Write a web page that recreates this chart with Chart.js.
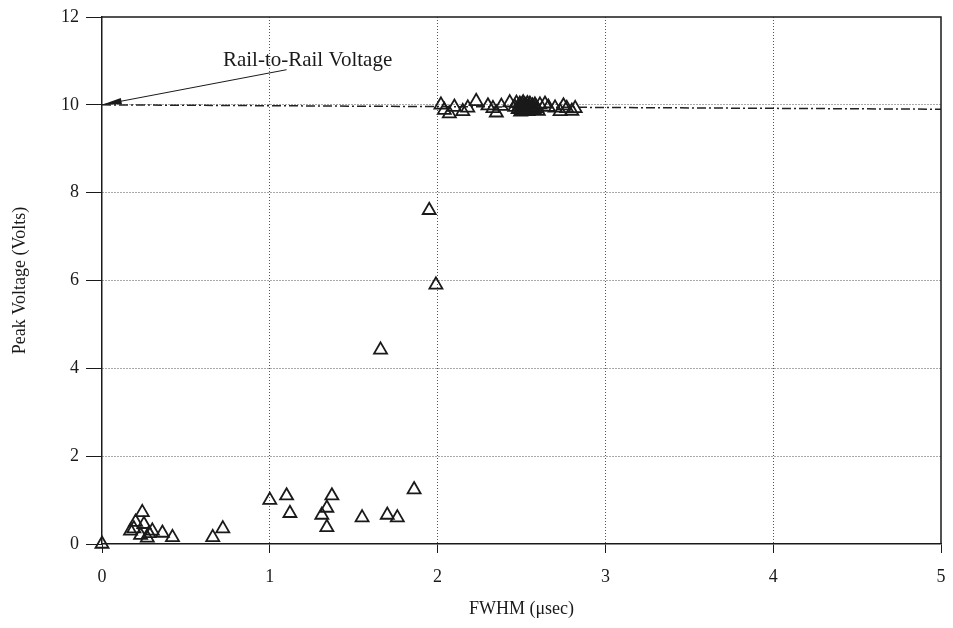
<!DOCTYPE html>
<html>
<head>
<meta charset="utf-8">
<script src="https://cdn.jsdelivr.net/npm/chart.js@4/dist/chart.umd.min.js"></script>
<style>
  html, body { margin: 0; padding: 0; background: #fff; }
  #wrap { width: 953px; height: 628px; }
</style>
</head>
<body>
<div id="wrap"><canvas id="chart"></canvas></div>
<script>
// FWHM (usec) / peak voltage (V)
const fwhm = [
  0.00, 0.19, 0.20, 0.24, 0.25, 0.23, 0.27, 0.28, 0.30, 0.36, 0.42, 0.17,
  0.66, 0.72, 1.00, 1.10, 1.12, 1.31, 1.34, 1.37, 1.34, 1.55, 1.70, 1.76, 1.86,
  1.66, 1.95, 1.99,
  2.02, 2.04, 2.07, 2.10, 2.15, 2.18, 2.23, 2.30, 2.33, 2.35, 2.38, 2.43,
  2.46, 2.47, 2.48, 2.49, 2.50, 2.50, 2.51, 2.52, 2.52, 2.53, 2.54, 2.55, 2.55,
  2.56, 2.57, 2.58, 2.59, 2.60, 2.61, 2.64, 2.66, 2.70, 2.73, 2.75, 2.77, 2.80, 2.82,
  2.485, 2.495, 2.505, 2.515, 2.525, 2.535, 2.545, 2.555, 2.565, 2.575, 2.585, 2.50
];
const peakVolts = [
  0.00, 0.35, 0.50, 0.72, 0.45, 0.20, 0.14, 0.24, 0.30, 0.25, 0.15, 0.30,
  0.15, 0.35, 1.00, 1.10, 0.70, 0.66, 0.82, 1.10, 0.38, 0.60, 0.66, 0.60, 1.24,
  4.42, 7.60, 5.90,
  10.00, 9.88, 9.80, 9.95, 9.85, 9.93, 10.08, 9.98, 9.92, 9.82, 9.97, 10.05,
  9.95, 10.04, 9.90, 10.02, 9.95, 9.86, 10.05, 9.90, 10.00, 9.97, 9.85, 10.02, 9.92,
  9.93, 9.88, 10.00, 9.92, 9.86, 10.00, 10.02, 9.95, 9.93, 9.85, 9.98, 9.92, 9.86, 9.92,
  9.96, 9.84, 10.01, 9.93, 9.87, 10.03, 9.95, 9.89, 9.98, 9.90, 9.96, 9.91
];

// rail-to-rail reference line (scan is slightly tilted)
const railX = [0, 5];
const railY = [10.0, 9.9];

// annotation: label position and arrow tip, in data units
const railLabel = 'Rail-to-Rail Voltage';
const labelAt = [1.225, 10.88];
const arrowFrom = [1.1, 10.8];
const arrowTip = [0.0, 10.0];

const xTicks = [0, 1, 2, 3, 4, 5];
const yTicks = [0, 2, 4, 6, 8, 10, 12];

const serif = '"Liberation Serif", "DejaVu Serif", serif';
const ink = '#1a1a1a';

const points = fwhm.map((x, i) => ({ x: x, y: peakVolts[i] }));
const rail = railX.map((x, i) => ({ x: x, y: railY[i] }));

// frame on top/right + arrow with label
const extras = {
  id: 'extras',
  afterDatasetsDraw(chart) {
    const { ctx, chartArea: a, scales: { x, y } } = chart;
    ctx.save();
    ctx.strokeStyle = ink;
    ctx.lineWidth = 1.5;
    ctx.beginPath();
    ctx.moveTo(a.left, a.top);
    ctx.lineTo(a.right, a.top);
    ctx.lineTo(a.right, a.bottom);
    ctx.stroke();

    const x0 = x.getPixelForValue(arrowFrom[0]), y0 = y.getPixelForValue(arrowFrom[1]);
    const x1 = x.getPixelForValue(arrowTip[0]), y1 = y.getPixelForValue(arrowTip[1]);
    ctx.lineWidth = 1;
    ctx.beginPath();
    ctx.moveTo(x0, y0);
    ctx.lineTo(x1, y1);
    ctx.stroke();
    // filled arrow head
    const ang = Math.atan2(y0 - y1, x0 - x1);
    const len = 20, half = 0.16;
    ctx.fillStyle = ink;
    ctx.beginPath();
    ctx.moveTo(x1, y1);
    ctx.lineTo(x1 + len * Math.cos(ang - half), y1 + len * Math.sin(ang - half));
    ctx.lineTo(x1 + len * Math.cos(ang + half), y1 + len * Math.sin(ang + half));
    ctx.closePath();
    ctx.fill();

    ctx.font = '21px ' + serif;
    ctx.textAlign = 'center';
    ctx.textBaseline = 'alphabetic';
    ctx.fillText(railLabel, x.getPixelForValue(labelAt[0]), y.getPixelForValue(labelAt[1]));
    ctx.restore();
  }
};

new Chart(document.getElementById('chart'), {
  type: 'scatter',
  data: {
    datasets: [
      {
        label: 'Peak voltage',
        data: points,
        pointStyle: 'triangle',
        pointRadius: 7.5,
        pointBorderWidth: 1.8,
        borderColor: ink,
        backgroundColor: 'rgba(255,255,255,0)',
        clip: false,
        order: 1
      },
      {
        label: 'Rail',
        type: 'line',
        data: rail,
        borderColor: '#222',
        borderWidth: 1.5,
        borderDash: [9, 3, 2, 3],
        pointRadius: 0,
        fill: false,
        order: 2
      }
    ]
  },
  options: {
    responsive: true,
    maintainAspectRatio: false,
    animation: false,
    layout: { padding: { top: 17, right: 12, left: 9, bottom: 0 } },
    plugins: {
      legend: { display: false },
      tooltip: { enabled: false }
    },
    scales: {
      x: {
        type: 'linear',
        min: 0,
        max: 5,
        afterBuildTicks: (s) => { s.ticks = xTicks.map(v => ({ value: v })); },
        afterFit: (s) => { s.height = 84; s.paddingLeft = 0; s.paddingRight = 0; },
        grid: {
          color: (c) => (c.tick && (c.tick.value === 0 || c.tick.value === 5)) ? 'rgba(0,0,0,0)' : '#555',
          tickColor: ink,
          tickLength: 9,
          lineWidth: 1
        },
        border: { color: ink, width: 1.5, dash: [1, 2] },
        ticks: { color: ink, font: { family: serif, size: 18 }, padding: 13 },
        title: {
          display: true,
          text: 'FWHM (\u03bcsec)',
          color: ink,
          font: { family: serif, size: 18 },
          padding: { top: 0, bottom: 8 }
        }
      },
      y: {
        type: 'linear',
        min: 0,
        max: 12,
        afterBuildTicks: (s) => { s.ticks = yTicks.map(v => ({ value: v })); },
        afterFit: (s) => { s.width = 93; s.paddingTop = 0; s.paddingBottom = 0; },
        grid: {
          color: (c) => (c.tick && (c.tick.value === 0 || c.tick.value === 12)) ? 'rgba(0,0,0,0)' : '#555',
          tickColor: ink,
          tickLength: 16,
          lineWidth: 1
        },
        border: { color: ink, width: 1.5, dash: [1, 2] },
        ticks: { color: ink, font: { family: serif, size: 18 }, padding: 7 },
        title: {
          display: true,
          text: 'Peak Voltage (Volts)',
          color: ink,
          font: { family: serif, size: 18 },
          padding: { top: 0, bottom: 0 }
        }
      }
    }
  },
  plugins: [extras]
});
</script>
</body>
</html>
